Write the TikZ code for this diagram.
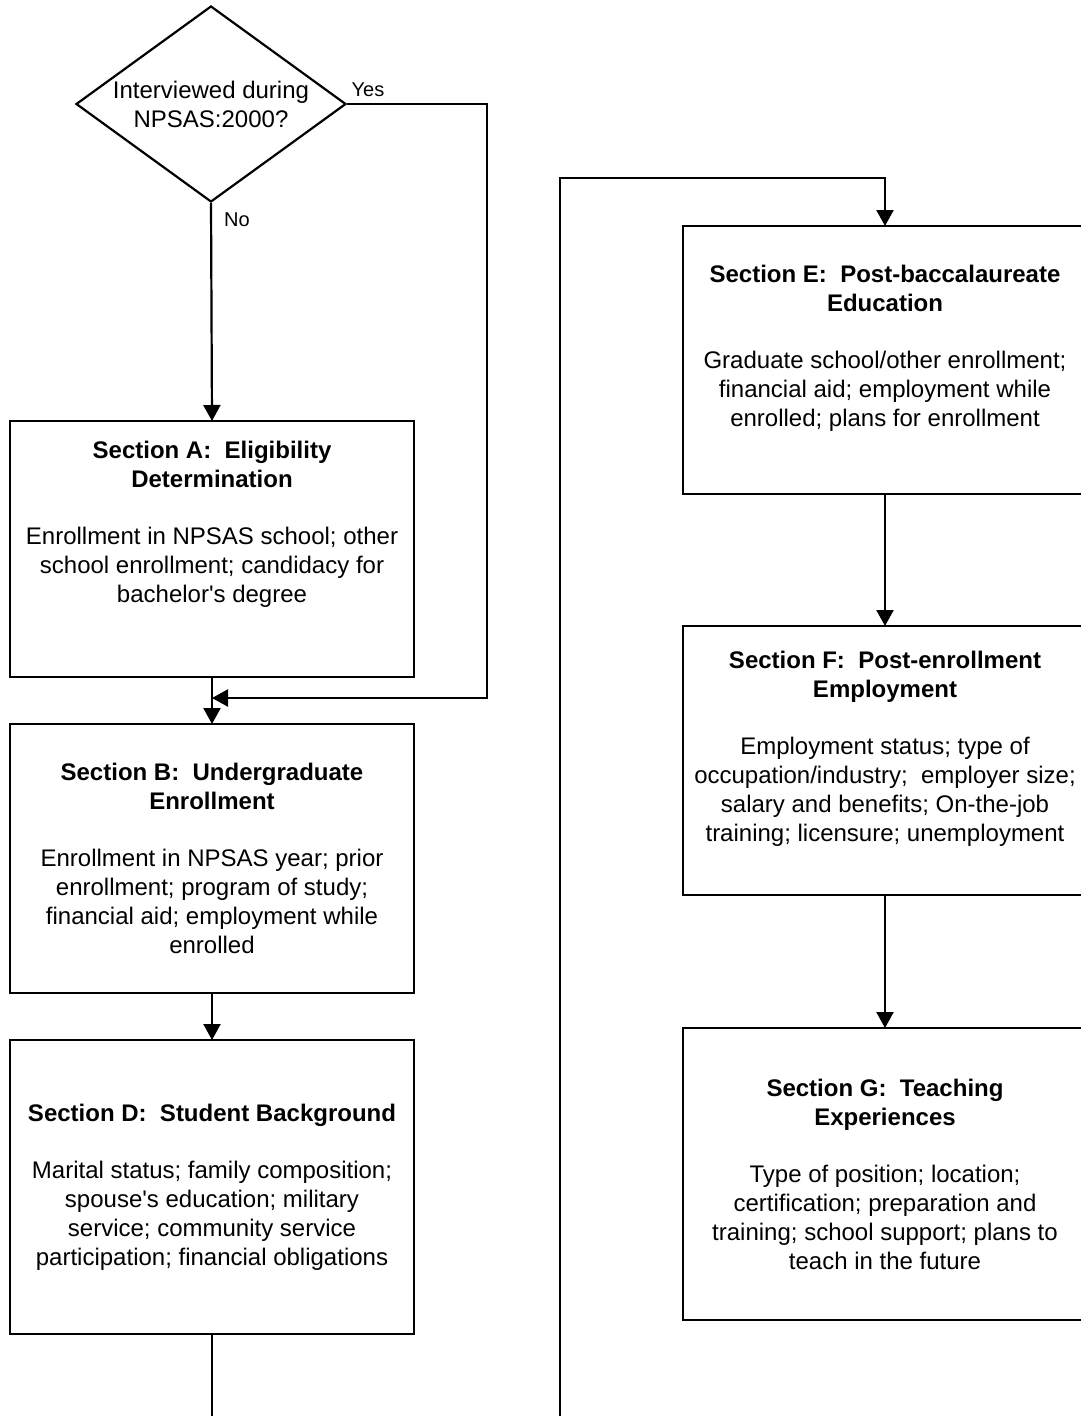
\documentclass[tikz,border=0pt]{standalone}
\usepackage{fontspec}
\setmainfont{Liberation Sans}
\usetikzlibrary{arrows.meta,shapes.geometric}

\begin{document}
\begin{tikzpicture}[
x=1pt, y=-1pt,
line width=2.2pt,
   sect/.style = {rectangle, draw,% styles of section boxes
                  minimum width=404pt, inner sep=0pt,
                  outer sep=0pt, align=center,
                  font=\fontsize{24}{29}\selectfont},
  quest/.style = {diamond, draw, aspect=1.38,% style of the question
                  minimum width=270pt, minimum height=196pt,
                  inner sep=0pt, align=center,
                  font=\fontsize{24}{29}\selectfont},
    lbl/.style = {font=\fontsize{20}{24}\selectfont},
     go/.style = {-{Triangle[length=16pt,width=17pt]}},
                        ]
\useasboundingbox (0,0) rectangle (1081,1416);
% left column
\node[quest] (Q) at (211,104) {Interviewed during\\NPSAS:2000?};
\node[sect, minimum height=256pt] (A) at (212,549)
    {\textbf{Section A:~~Eligibility}\\\textbf{Determination}\\[28pt]
     Enrollment in NPSAS school; other\\school enrollment; candidacy for\\
     bachelor\textquotesingle s degree\\[25pt]\mbox{}};
\node[sect, minimum height=269pt] (B) at (212,858.5)
    {\textbf{Section B:~~Undergraduate}\\\textbf{Enrollment}\\[28pt]
     Enrollment in NPSAS year; prior\\enrollment; program of study;\\
     financial aid; employment while\\enrolled};
\node[sect, minimum height=294pt] (D) at (212,1187)
    {\textbf{Section D:~~Student Background}\\[28pt]
     Marital status; family composition;\\spouse\textquotesingle s education; military\\
     service; community service\\participation; financial obligations};
% right column
\node[sect, minimum height=268pt] (E) at (885,360)
    {\textbf{Section E:~~Post-baccalaureate}\\\textbf{Education}\\[28pt]
     Graduate school/other enrollment;\\financial aid; employment while\\
     enrolled; plans for enrollment\\\mbox{}};
\node[sect, minimum height=269pt] (F) at (885,760.5)
    {\textbf{Section F:~~Post-enrollment}\\\textbf{Employment}\\[28pt]
     Employment status; type of\\occupation/industry;~~employer size;\\
     salary and benefits; On-the-job\\training; licensure; unemployment\\\mbox{}};
\node[sect, minimum height=292pt] (G) at (885,1174)
    {\textbf{Section G:~~Teaching}\\\textbf{Experiences}\\[28pt]
     Type of position; location;\\certification; preparation and\\
     training; school support; plans to\\teach in the future};
% answers
\node[lbl] (yes) at (368,90) {Yes};
\node[lbl] (no)  at (237,220) {No};
% connectors
\coordinate (meet) at (212,698);
\coordinate (Dout) at (212,1416);
\coordinate (Ein)  at (560,1416);
\draw[go] (Q.south) -- (A.north);
\draw[go] (Q.east) -- (487,104) -- (487,698) -- (meet);
\draw[go] (A.south) -- (B.north);
\draw[go] (B.south) -- (D.north);
\draw (D.south) -- (Dout);
\draw[go] (Ein) -- (560,178) -| (E.north);
\draw[go] (E.south) -- (F.north);
\draw[go] (F.south) -- (G.north);
\end{tikzpicture}
\end{document}
